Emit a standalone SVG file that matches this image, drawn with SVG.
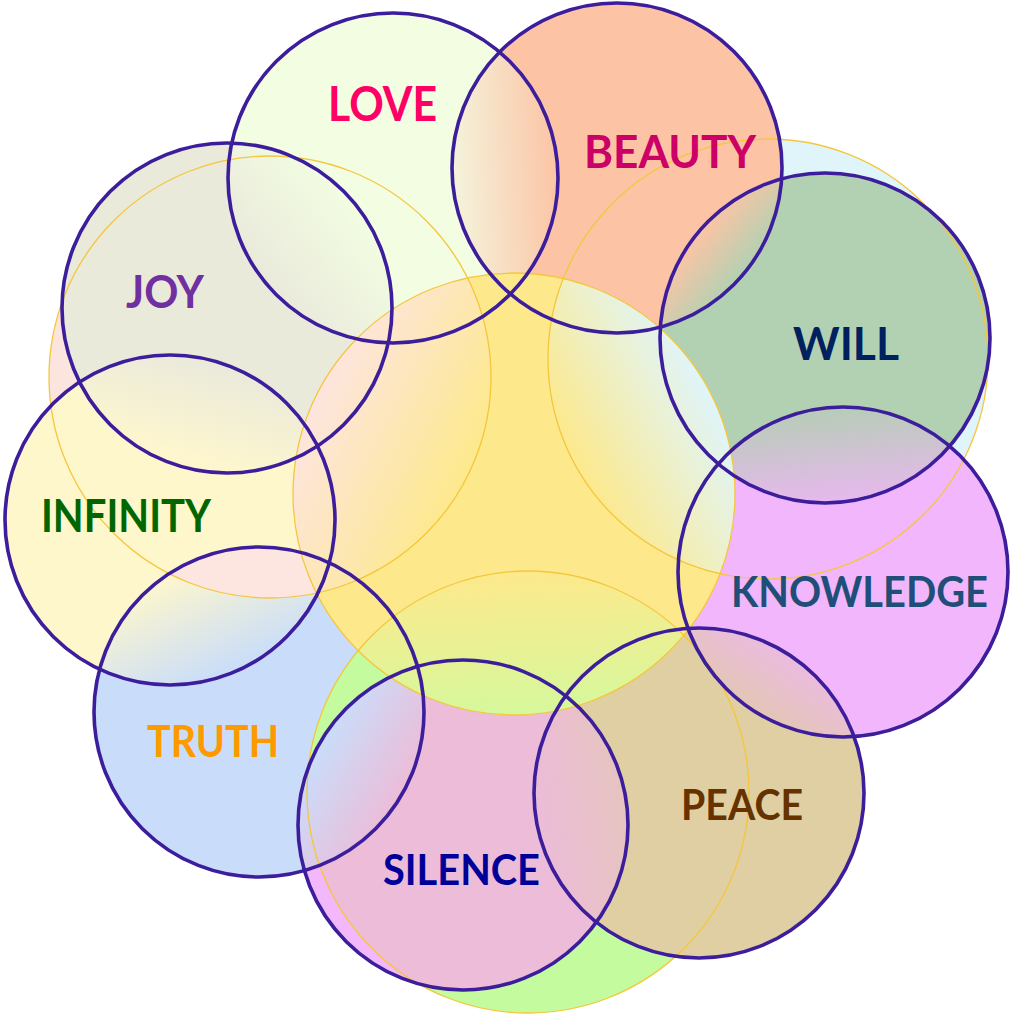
<svg xmlns="http://www.w3.org/2000/svg" width="1012" height="1015" viewBox="0 0 1012 1015">
<style>
.ring{fill:none;stroke:#3c1e9c;stroke-width:3.6}
.ybig{fill:none;stroke:#f5c63c;stroke-width:1.3}
.lbl{font-family:Lato,"Open Sans","Liberation Sans",sans-serif;font-weight:bold}
</style>
<defs>
<clipPath id="cp-inf"><circle cx="170" cy="520" r="165"/></clipPath>
<clipPath id="cp-truth"><circle cx="259" cy="712" r="165"/></clipPath>
<clipPath id="cp-joy"><circle cx="227" cy="308" r="165"/></clipPath>
<clipPath id="cp-love"><circle cx="393" cy="178" r="165"/></clipPath>
<clipPath id="cp-beauty"><circle cx="617" cy="168" r="165"/></clipPath>
<clipPath id="cp-will"><circle cx="825" cy="338" r="165"/></clipPath>
<clipPath id="cp-know"><circle cx="843" cy="572" r="165"/></clipPath>
<clipPath id="cp-peace"><circle cx="699" cy="793" r="165"/></clipPath>
<clipPath id="cp-sil"><circle cx="463" cy="825" r="165"/></clipPath>
<clipPath id="cp-c1"><circle cx="270" cy="377" r="221"/></clipPath>
<clipPath id="cp-c2"><circle cx="768" cy="359" r="220"/></clipPath>
<clipPath id="cp-c3"><circle cx="528" cy="792" r="221"/></clipPath>

<linearGradient id="g-inf-truth" gradientUnits="userSpaceOnUse" x1="189.6" y1="562.3" x2="239.4" y2="669.7"><stop offset="0" stop-color="#fff7cc"/><stop offset="1" stop-color="#c9ddfa"/></linearGradient>
<linearGradient id="g-joy-love" gradientUnits="userSpaceOnUse" x1="263.1" y1="279.8" x2="356.9" y2="206.2"><stop offset="0" stop-color="#eaeadb"/><stop offset="1" stop-color="#f2fde2"/></linearGradient>
<linearGradient id="g-love-beauty" gradientUnits="userSpaceOnUse" x1="452.2" y1="175.4" x2="557.8" y2="170.6"><stop offset="0" stop-color="#f4f4dc"/><stop offset="1" stop-color="#fcc4a5"/></linearGradient>
<linearGradient id="g-beauty-will" gradientUnits="userSpaceOnUse" x1="697.2" y1="233.6" x2="744.8" y2="272.4"><stop offset="0" stop-color="#fcc4a5"/><stop offset="1" stop-color="#b2d1b2"/></linearGradient>
<linearGradient id="g-will-know" gradientUnits="userSpaceOnUse" x1="830.3" y1="407.5" x2="837.7" y2="502.5"><stop offset="0" stop-color="#b6cdb6"/><stop offset="1" stop-color="#e8b8ef"/></linearGradient>
<linearGradient id="g-know-peace" gradientUnits="userSpaceOnUse" x1="789.1" y1="654.8" x2="752.9" y2="710.2"><stop offset="0" stop-color="#ebbbe0"/><stop offset="1" stop-color="#e4c6b6"/></linearGradient>
<linearGradient id="g-peace-sil" gradientUnits="userSpaceOnUse" x1="626.5" y1="802.8" x2="535.5" y2="815.2"><stop offset="0" stop-color="#e6c4c0"/><stop offset="1" stop-color="#ecbcd8"/></linearGradient>
<linearGradient id="g-sil-truth" gradientUnits="userSpaceOnUse" x1="403.3" y1="792" x2="318.7" y2="745"><stop offset="0" stop-color="#ecbcd8"/><stop offset="1" stop-color="#c9ddfa"/></linearGradient>
<linearGradient id="g-inf-joy" gradientUnits="userSpaceOnUse" x1="184.1" y1="467.4" x2="212.9" y2="360.6"><stop offset="0" stop-color="#fff7cc"/><stop offset="1" stop-color="#eaeadb"/></linearGradient>
<linearGradient id="g-c1-c0" gradientUnits="userSpaceOnUse" x1="314.7" y1="398.4" x2="469.3" y2="472.6"><stop offset="0" stop-color="#fde5df"/><stop offset="1" stop-color="#fde98c"/></linearGradient>
<linearGradient id="g-c0-c2" gradientUnits="userSpaceOnUse" x1="573.7" y1="462.3" x2="709.2" y2="390.3"><stop offset="0" stop-color="#fde98c"/><stop offset="1" stop-color="#e0f5fa"/></linearGradient>
<linearGradient id="g-c0-c3" gradientUnits="userSpaceOnUse" x1="517.6" y1="571.2" x2="524.4" y2="714.8"><stop offset="0" stop-color="#fde98c"/><stop offset="1" stop-color="#d6f89c"/></linearGradient>
</defs>

<!-- bottom layer: truth fill -->
<g id="layer-low">
<circle cx="259" cy="712" r="165" fill="#c9ddfa"/>
</g>

<!-- large background circles -->
<g id="layer-big">
<circle cx="270" cy="377" r="221" fill="#fde5df"/>
<circle cx="768" cy="359" r="220" fill="#e0f5fa"/>
<circle cx="528" cy="792" r="221" fill="#c4fb9e"/>
</g>

<!-- node fills -->
<g id="layer-mid">
<circle cx="170" cy="520" r="165" fill="#fff7cc"/>
<circle cx="170" cy="520" r="165" fill="url(#g-inf-truth)" clip-path="url(#cp-truth)"/>
<g clip-path="url(#cp-inf)"><circle cx="270" cy="377" r="221" fill="#fde6e0" clip-path="url(#cp-truth)"/></g>
<circle cx="227" cy="308" r="165" fill="#eaeadb"/>
<circle cx="393" cy="178" r="165" fill="#f2fde2"/>
<circle cx="617" cy="168" r="165" fill="#fcc4a5"/>
<circle cx="825" cy="338" r="165" fill="#b2d1b2"/>
<circle cx="843" cy="572" r="165" fill="#f2b6fc"/>
<circle cx="699" cy="793" r="165" fill="#e0cfa3"/>
<circle cx="463" cy="825" r="165" fill="#f2b8fb"/>
<circle cx="528" cy="792" r="221" fill="#ecbcd8" clip-path="url(#cp-sil)"/>
<circle cx="227" cy="308" r="165" fill="url(#g-joy-love)" clip-path="url(#cp-love)"/>
<circle cx="393" cy="178" r="165" fill="url(#g-love-beauty)" clip-path="url(#cp-beauty)"/>
<circle cx="617" cy="168" r="165" fill="url(#g-beauty-will)" clip-path="url(#cp-will)"/>
<circle cx="825" cy="338" r="165" fill="url(#g-will-know)" clip-path="url(#cp-know)"/>
<circle cx="843" cy="572" r="165" fill="url(#g-know-peace)" clip-path="url(#cp-peace)"/>
<circle cx="699" cy="793" r="165" fill="url(#g-peace-sil)" clip-path="url(#cp-sil)"/>
<circle cx="463" cy="825" r="165" fill="url(#g-sil-truth)" clip-path="url(#cp-truth)"/>
<circle cx="170" cy="520" r="165" fill="url(#g-inf-joy)" clip-path="url(#cp-joy)"/>
</g>

<!-- central circle on top -->
<g id="layer-center">
<circle cx="514" cy="494" r="221" fill="#fde98c"/>
<circle cx="514" cy="494" r="221" fill="url(#g-c1-c0)" clip-path="url(#cp-c1)"/>
<circle cx="514" cy="494" r="221" fill="url(#g-c0-c2)" clip-path="url(#cp-c2)"/>
<circle cx="514" cy="494" r="221" fill="url(#g-c0-c3)" clip-path="url(#cp-c3)"/>
</g>

<!-- thin golden outlines of the large circles -->
<g id="layer-outlines">
<circle class="ybig" cx="270" cy="377" r="221"/>
<circle class="ybig" cx="768" cy="359" r="220"/>
<circle class="ybig" cx="528" cy="792" r="221"/>
<circle class="ybig" cx="514" cy="494" r="221"/>
</g>

<g id="node-love"><circle class="ring" cx="393" cy="178" r="165"/><text class="lbl" x="328" y="121" font-size="47" fill="#ff0066" textLength="109" lengthAdjust="spacingAndGlyphs">LOVE</text></g>
<g id="node-beauty"><circle class="ring" cx="617" cy="168" r="165"/><text class="lbl" x="584" y="168" font-size="46" fill="#cc0066" textLength="172" lengthAdjust="spacingAndGlyphs">BEAUTY</text></g>
<g id="node-will"><circle class="ring" cx="825" cy="338" r="165"/><text class="lbl" x="793" y="360" font-size="46" fill="#002060" textLength="106" lengthAdjust="spacingAndGlyphs">WILL</text></g>
<g id="node-knowledge"><circle class="ring" cx="843" cy="572" r="165"/><text class="lbl" x="731" y="607" font-size="42" fill="#1f4e79" textLength="257" lengthAdjust="spacingAndGlyphs">KNOWLEDGE</text></g>
<g id="node-peace"><circle class="ring" cx="699" cy="793" r="165"/><text class="lbl" x="681" y="820" font-size="42" fill="#663300" textLength="122" lengthAdjust="spacingAndGlyphs">PEACE</text></g>
<g id="node-silence"><circle class="ring" cx="463" cy="825" r="165"/><text class="lbl" x="383" y="885" font-size="42" fill="#000099" textLength="157" lengthAdjust="spacingAndGlyphs">SILENCE</text></g>
<g id="node-truth"><circle class="ring" cx="259" cy="712" r="165"/><text class="lbl" x="147" y="757" font-size="43" fill="#ff9900" textLength="132" lengthAdjust="spacingAndGlyphs">TRUTH</text></g>
<g id="node-infinity"><circle class="ring" cx="170" cy="520" r="165"/><text class="lbl" x="41" y="532" font-size="45" fill="#006600" textLength="170" lengthAdjust="spacingAndGlyphs">INFINITY</text></g>
<g id="node-joy"><circle class="ring" cx="227" cy="308" r="165"/><text class="lbl" x="126" y="308" font-size="46" fill="#7030a0" textLength="78" lengthAdjust="spacingAndGlyphs">JOY</text></g>
</svg>
